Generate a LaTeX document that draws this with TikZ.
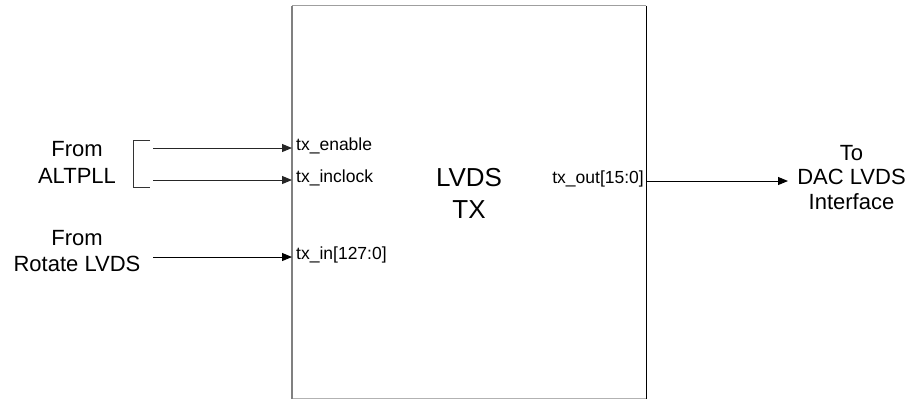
\documentclass[tikz,border=0pt]{standalone}
\usepackage{fontspec}
\setmainfont{Liberation Sans}
\usetikzlibrary{arrows.meta}
\begin{document}
\begin{tikzpicture}[x=1pt,y=-1pt,
  big/.style={font=\fontsize{22}{26}\selectfont,inner sep=0pt,anchor=base},
  huge/.style={font=\fontsize{26}{31}\selectfont,inner sep=0pt,anchor=base},
  port/.style={font=\fontsize{17.5}{20}\selectfont,inner sep=0pt},
  sig/.style={line width=1pt,-{Triangle[length=10pt,width=8pt]}},
]
\useasboundingbox (0,0) rectangle (909,400);
\fill[white] (0,0) rectangle (909,400);
% block
\coordinate (bl) at (292,398.5);
\coordinate (tl) at (292,5.5);
\coordinate (tr) at (646,5.5);
\coordinate (br) at (646,398.5);
\draw[line width=1pt,gray!75] (tl) -- (tr);
\draw[line width=1pt,gray!60] (bl) -- (br);
\draw[line width=1pt,black] (tr) -- (br);
\draw[line width=1.8pt,gray] (bl) -- (tl);
\node[huge] (lvds) at (469,186.7) {LVDS};
\node[huge] (tx) at (469,218.3) {TX};
% ports
\node[port,anchor=mid west] (pen) at (296,148) {tx\_enable};
\node[port,anchor=mid west] (pclk) at (296,180) {tx\_inclock};
\node[port,anchor=mid west] (pin) at (296,257) {tx\_in[127:0]};
\node[port,anchor=mid east] (pout) at (644,181) {tx\_out[15:0]};
% endpoints
\coordinate (sen) at (153,148);
\coordinate (een) at (292,148);
\coordinate (sclk) at (153,180);
\coordinate (eclk) at (292,180);
\coordinate (sin) at (153,257);
\coordinate (ein) at (292,257);
\coordinate (sout) at (646,181);
\coordinate (eout) at (788,181);
\draw[sig,black!85] (sen) -- (een);
\draw[sig,black!85] (sclk) -- (eclk);
\draw[sig] (sin) -- (ein);
\draw[sig] (sout) -- (eout);
% bracket
\coordinate (b1) at (150,140);
\coordinate (b2) at (150,187);
\draw[line width=1pt,black!80] (b1) -- (133,140) -- (133,187) -- (b2);
% left labels
\node[big] (from1) at (77,156.7) {From};
\node[big] (altpll) at (77,183.3) {ALTPLL};
\node[big] (from2) at (77,245) {From};
\node[big] (rot) at (77,271.5) {Rotate LVDS};
% right labels
\node[big] (to) at (851.5,160) {To};
\node[big] (dac) at (851.5,184.5) {DAC LVDS};
\node[big] (intf) at (851.5,209) {Interface};
\end{tikzpicture}
\end{document}
